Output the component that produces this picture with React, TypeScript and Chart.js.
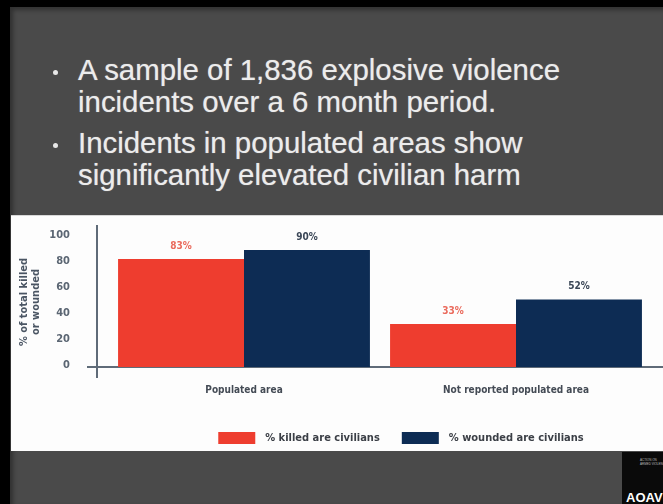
import React, { useEffect, useRef } from "react";
import { Chart, registerables } from "chart.js";

Chart.register(...registerables);

const categories = ["Populated area", "Not reported populated area"];
const killedCivilians = [83, 33];
const woundedCivilians = [90, 52];
const seriesLabels = ["% killed are civilians", "% wounded are civilians"];
const yTitle = ["% of total killed", "or wounded"];
const yTicks = [0, 20, 40, 60, 80, 100];
const bulletLines = [
  ["A sample of 1,836 explosive violence", "incidents over a 6 month period."],
  ["Incidents in populated areas show", "significantly elevated civilian harm"],
];

const RED = "#ee3d2f";
const NAVY = "#0d2c54";
const RED_LABEL = "#ea6b5d";
const NAVY_LABEL = "#3a4656";
const AXIS = "#5f6b78";
const CONDENSED =
  "'Liberation Sans Narrow', 'DejaVu Sans Condensed', 'Roboto Condensed', 'Liberation Sans', sans-serif";

const axisLinesPlugin = {
  id: "axisLines",
  beforeDatasetsDraw(chart: any) {
    const { ctx, chartArea, scales } = chart;
    const y0 = scales.y.getPixelForValue(0);
    const yTop = scales.y.getPixelForValue(100);
    const ax = chartArea.left - 11;
    ctx.save();
    ctx.strokeStyle = AXIS;
    ctx.lineWidth = 2;
    ctx.beginPath();
    ctx.moveTo(ax, yTop - 12);
    ctx.lineTo(ax, y0 + 11);
    ctx.moveTo(chartArea.left - 21, y0);
    ctx.lineTo(chart.width, y0);
    ctx.stroke();
    ctx.restore();
  },
};

const valueLabelsPlugin = {
  id: "valueLabels",
  afterDatasetsDraw(chart: any) {
    const { ctx } = chart;
    const colors = [RED_LABEL, NAVY_LABEL];
    ctx.save();
    ctx.font = `bold 10px ${CONDENSED}`;
    ctx.textAlign = "center";
    ctx.textBaseline = "middle";
    chart.data.datasets.forEach((ds: any, di: number) => {
      const meta = chart.getDatasetMeta(di);
      ctx.fillStyle = colors[di];
      meta.data.forEach((el: any, i: number) => {
        ctx.fillText(`${ds.data[i]}%`, el.x, el.y - 13);
      });
    });
    ctx.restore();
  },
};

const customLegendPlugin = {
  id: "customLegend",
  afterDraw(chart: any) {
    const { ctx, chartArea } = chart;
    const boxW = 37;
    const boxH = 12;
    const gap = 10;
    const itemGap = 22;
    ctx.save();
    ctx.font = `bold 11px ${CONDENSED}`;
    const items = chart.data.datasets.map((ds: any) => ({
      label: ds.label,
      color: ds.backgroundColor,
      w: boxW + gap + ctx.measureText(ds.label).width,
    }));
    const total =
      items.reduce((s: number, it: any) => s + it.w, 0) + itemGap * (items.length - 1);
    const cx = (chartArea.left + chartArea.right) / 2 + 21;
    let x = cx - total / 2;
    const yc = 223;
    ctx.textBaseline = "middle";
    ctx.textAlign = "left";
    items.forEach((it: any) => {
      ctx.fillStyle = it.color;
      ctx.fillRect(x, yc - boxH / 2, boxW, boxH);
      ctx.fillStyle = "#3b3f46";
      ctx.fillText(it.label, x + boxW + gap, yc);
      x += it.w + itemGap;
    });
    ctx.restore();
  },
};

function BarChart() {
  const ref = useRef<HTMLCanvasElement | null>(null);
  useEffect(() => {
    if (!ref.current) return;
    const chart = new Chart(ref.current, {
      type: "bar",
      data: {
        labels: categories,
        datasets: [
          {
            label: seriesLabels[0],
            data: killedCivilians,
            backgroundColor: RED,
            borderWidth: 0,
            categoryPercentage: 0.926,
            barPercentage: 1.0,
          },
          {
            label: seriesLabels[1],
            data: woundedCivilians,
            backgroundColor: NAVY,
            borderWidth: 0,
            categoryPercentage: 0.926,
            barPercentage: 1.0,
          },
        ],
      },
      options: {
        animation: false,
        responsive: false,
        devicePixelRatio: 1,
        layout: { padding: { top: 22, right: 11, bottom: 54, left: 0 } },
        plugins: {
          legend: { display: false },
          tooltip: { enabled: false },
        },
        scales: {
          x: {
            grid: { display: false, drawTicks: false },
            border: { display: false },
            ticks: {
              padding: 17,
              color: "#444b55",
              font: { family: CONDENSED, size: 10, weight: "bold" },
            },
            afterFit(scale: any) {
              scale.height = 30;
              scale.paddingLeft = 0;
              scale.paddingRight = 0;
            },
          },
          y: {
            min: 0,
            max: 100,
            afterBuildTicks(scale: any) {
              scale.ticks = yTicks.map((v) => ({ value: v }));
            },
            grid: { display: false, drawTicks: false },
            border: { display: false },
            ticks: {
              padding: 38,
              labelOffset: -2,
              color: "#5b6673",
              font: { family: CONDENSED, size: 11, weight: "bold" },
            },
            title: {
              display: true,
              text: yTitle,
              color: "#4a5563",
              font: { family: CONDENSED, size: 11, weight: "bold", lineHeight: 12 / 11 },
              padding: { top: 7, bottom: 0 },
            },
            afterFit(scale: any) {
              scale.width = 97;
              scale.paddingTop = 0;
              scale.paddingBottom = 0;
            },
          },
        },
      },
      plugins: [axisLinesPlugin, valueLabelsPlugin, customLegendPlugin],
    } as any);
    return () => chart.destroy();
  }, []);
  return (
    <canvas
      ref={ref}
      width={652}
      height={236}
      style={{ width: 652, height: 236, display: "block" }}
    />
  );
}

export default function App() {
  return (
    <div
      style={{
        position: "fixed",
        left: 0,
        top: 0,
        width: 663,
        height: 504,
        background: "#000",
        overflow: "hidden",
        fontFamily: "'Liberation Sans', Arial, sans-serif",
      }}
    >
      <div
        style={{
          position: "absolute",
          left: 10,
          top: 7,
          right: 0,
          bottom: 0,
          background: "#4a4a4a",
          boxShadow: "inset 3px 3px 4px rgba(0,0,0,0.35)",
        }}
      />
      {bulletLines.map((lines, i) => (
        <div
          key={i}
          style={{
            position: "absolute",
            left: 78,
            top: i === 0 ? 54 : 127,
            color: "#ececec",
            fontSize: 29.4,
            lineHeight: "32px",
            whiteSpace: "nowrap",
            textShadow: "0 0 1px rgba(255,255,255,0.5)",
          }}
        >
          <span
            style={{
              position: "absolute",
              left: -25,
              top: 16,
              width: 5,
              height: 5,
              borderRadius: 3,
              background: "#e8e8e8",
            }}
          />
          {lines.map((l, j) => (
            <div key={j}>{l}</div>
          ))}
        </div>
      ))}
      <div
        style={{
          position: "absolute",
          left: 11,
          top: 215,
          width: 652,
          height: 236,
          background: "#fdfdfd",
          borderTop: "1px solid #d8d8d8",
          boxSizing: "border-box",
        }}
      >
        <div style={{ position: "absolute", left: 0, top: -1 }}>
          <BarChart />
        </div>
      </div>
      <div
        style={{
          position: "absolute",
          left: 622,
          top: 452,
          width: 41,
          height: 52,
          background: "#0a0a0a",
          overflow: "hidden",
          color: "#fff",
        }}
      >
        <div
          style={{
            position: "absolute",
            left: 18,
            top: 6,
            fontSize: 3,
            lineHeight: "4px",
            color: "#bbb",
            whiteSpace: "nowrap",
          }}
        >
          <div>ACTION ON</div>
          <div>ARMED VIOLENCE</div>
        </div>
        <div
          style={{
            position: "absolute",
            left: 4,
            top: 39,
            fontSize: 13,
            fontWeight: "bold",
            lineHeight: "14px",
            whiteSpace: "nowrap",
          }}
        >
          AOAV
        </div>
      </div>
    </div>
  );
}
